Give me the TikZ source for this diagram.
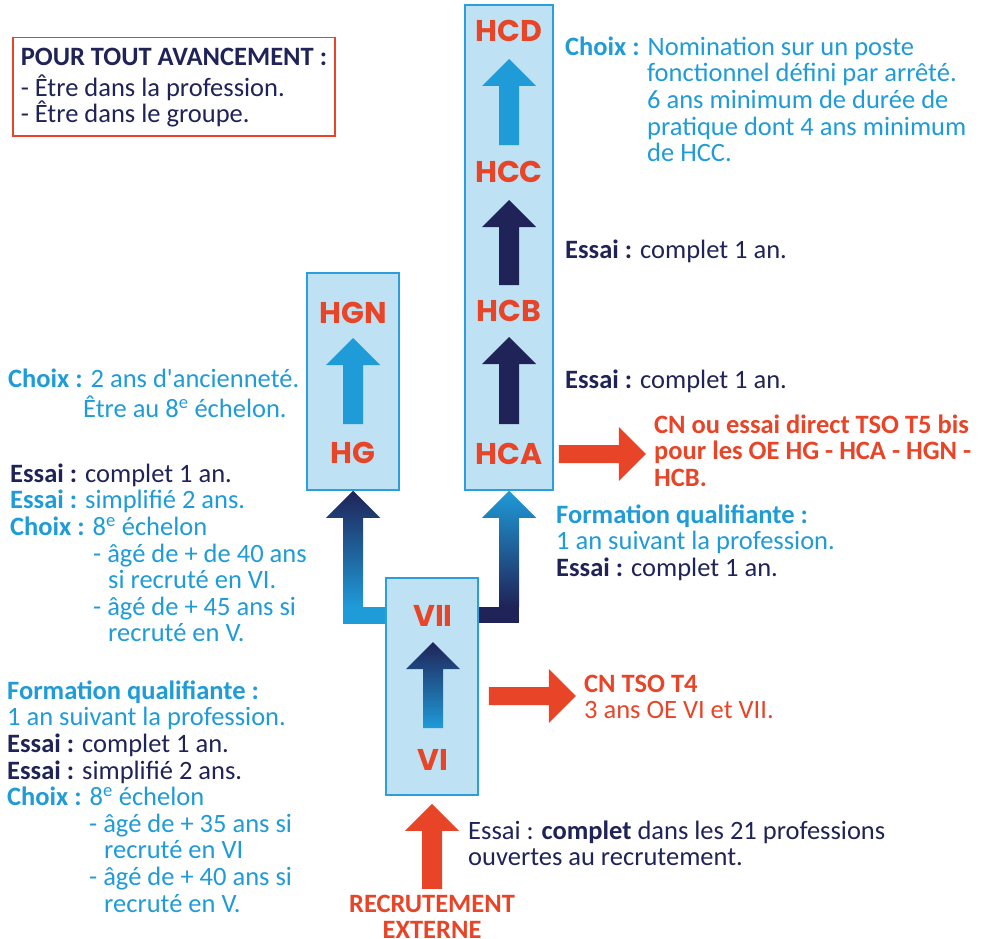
\documentclass[tikz,border=0pt]{standalone}
\usepackage{fontspec}
\setmainfont{Carlito}
\newfontfamily\gradefont{Poppins}
\usetikzlibrary{calc}
\definecolor{cnavy}{HTML}{1F2357}
\definecolor{cblue}{HTML}{1F9BD8}
\definecolor{cred}{HTML}{E84427}
\definecolor{cpale}{HTML}{BEE2F3}
\definecolor{cedge}{HTML}{2A9FDB}
\newcommand{\txtsize}{\fontsize{26.5}{26.6}\selectfont}
\newcommand{\gradesize}{\gradefont\bfseries\fontsize{30}{30}\selectfont}
\newcommand{\bigarrowup}[3]{%
  \path[#1] let \p1=(#2), \p2=(#3) in
    (\x1-10pt,\y1) -- (\x1-10pt,\y2-27pt) -- (\x1-27pt,\y2-27pt) -- (\x1,\y2)
    -- (\x1+27pt,\y2-27pt) -- (\x1+10pt,\y2-27pt) -- (\x1+10pt,\y1) -- cycle;}
\newcommand{\bigarrowright}[3]{%
  \path[#1] let \p1=(#2), \p2=(#3) in
    (\x1,\y1-9pt) -- (\x2-27pt,\y1-9pt) -- (\x2-27pt,\y1-27pt) -- (\x2,\y1)
    -- (\x2-27pt,\y1+27pt) -- (\x2-27pt,\y1+9pt) -- (\x1,\y1+9pt) -- cycle;}
\begin{document}
\begin{tikzpicture}[x=1pt, y=-1pt,
    box/.style={draw=cedge, line width=1.5pt, fill=cpale, inner sep=0pt},
    grade/.style={text=cred, inner sep=0pt, font=\gradesize},
    txt/.style={anchor=north west, inner sep=0pt, align=left, font=\txtsize, text=cblue},
    navyfill/.style={fill=cnavy},
    bluefill/.style={fill=cblue},
    redfill/.style={fill=cred}]
  \useasboundingbox (0,0) rectangle (982,939);

  \node[box, minimum width=88pt, minimum height=485pt] (boxhc) at (509,247.5) {};
  \node[box, minimum width=92pt, minimum height=217pt] (boxhg) at (353,381.5) {};
  \node[box, minimum width=92pt, minimum height=217pt] (boxvii) at (432,686.5) {};

  \node[grade] (hcd) at (509,31) {HCD};
  \node[grade] (hcc) at (509,172) {HCC};
  \node[grade] (hcb) at (509,311) {HCB};
  \node[grade] (hca) at (509,454) {HCA};
  \node[grade] (hgn) at (353,313) {HGN};
  \node[grade] (hg) at (353,453) {HG};
  \node[grade] (vii) at (433,616) {VII};
  \node[grade] (vi) at (433,760) {VI};

  \bigarrowup{bluefill}{$(hcc)+(0,-27)$}{$(hcd)+(0,28)$}
  \bigarrowup{navyfill}{$(hcb)+(0,-26)$}{$(hcc)+(0,28)$}
  \bigarrowup{navyfill}{$(hca)+(0,-30)$}{$(hcb)+(0,26)$}
  \bigarrowup{bluefill}{$(hg)+(0,-29)$}{$(hgn)+(0,25)$}
  \bigarrowup{top color=cnavy, bottom color=cblue}{$(vi)+(0,-32)$}{$(vii)+(0,26)$}

  \fill[cblue] ($(boxhg.south |- boxvii.north)+(-10,30)$) rectangle ($(boxvii.north west)+(0,47)$);
  \bigarrowup{top color=cnavy, bottom color=cblue}{$(boxhg.south |- boxvii.north)+(0,30)$}{boxhg.south}
  \fill[cnavy] (boxvii.north east) ++(0,30) rectangle ($(boxhc.south |- boxvii.north)+(10,46)$);
  \bigarrowup{top color=cblue, bottom color=cnavy}{$(boxhc.south |- boxvii.north)+(0,30)$}{boxhc.south}
  \bigarrowup{redfill}{$(boxvii.south)+(0,93)$}{$(boxvii.south)+(0,8)$}
  \bigarrowright{redfill}{$(boxvii.east)+(10,9.5)$}{$(boxvii.east)+(97,9.5)$}
  \bigarrowright{redfill}{$(boxhc.east |- hca)+(5,0)$}{$(boxhc.east |- hca)+(92,0)$}

  \node[txt, draw=cred, line width=1.5pt, inner xsep=8pt, inner ysep=9pt, text=cnavy] (avance) at (12,37)
    {\strut\textbf{POUR TOUT AVANCEMENT :}\\- Être dans la profession.\\- Être dans le groupe.};
  \node[txt] (choixhcd) at (565,36.4) {\strut\textbf{Choix :} Nomination sur un poste\\
    \hspace*{82pt}fonctionnel défini par arrêté.\\
    \hspace*{82pt}6 ans minimum de durée de\\
    \hspace*{82pt}pratique dont 4 ans minimum\\
    \hspace*{82pt}de HCC.};
  \node[txt, text=cnavy] (essaihcc) at (565,239.4) {\strut\textbf{Essai :} complet 1 an.};
  \node[txt, text=cnavy] (essaihcb) at (565,369.4) {\strut\textbf{Essai :} complet 1 an.};
  \node[txt] (choixhgn) at (8,368.4) {\strut\textbf{Choix :} 2 ans d\textquotesingle ancienneté.\\
    \hspace*{75pt}Être au 8\textsuperscript{e} échelon.};
  \node[txt] (versvhg) at (10,463.4) {\strut\textcolor{cnavy}{\textbf{Essai :} complet 1 an.}\\
    \textbf{Essai :} simplifié 2 ans.\\
    \textbf{Choix :} 8\textsuperscript{e} échelon\\
    \hspace*{83pt}- âgé de + de 40 ans\\
    \hspace*{98pt}si recruté en VI.\\
    \hspace*{83pt}- âgé de + 45 ans si\\
    \hspace*{98pt}recruté en V.};
  \node[txt] (versvii) at (7,680.4) {\strut\textbf{Formation qualifiante :}\\
    1 an suivant la profession.\\
    \textcolor{cnavy}{\textbf{Essai :} complet 1 an.}\\
    \textcolor{cnavy}{\textbf{Essai :} simplifié 2 ans.}\\
    \textbf{Choix :} 8\textsuperscript{e} échelon\\
    \hspace*{82pt}- âgé de + 35 ans si\\
    \hspace*{97pt}recruté en VI\\
    \hspace*{82pt}- âgé de + 40 ans si\\
    \hspace*{97pt}recruté en V.};
  \node[txt, text=cred, font=\txtsize\bfseries] (direct) at (654,414.4)
    {\strut CN ou essai direct TSO T5 bis\\pour les OE HG - HCA - HGN -\\HCB.};
  \node[txt] (formhca) at (556,504.4) {\strut\textbf{Formation qualifiante :}\\
    1 an suivant la profession.\\
    \textcolor{cnavy}{\textbf{Essai :} complet 1 an.}};
  \node[txt, text=cred] (tsot4) at (584,673.4) {\strut\textbf{CN TSO T4}\\3 ans OE VI et VII.};
  \node[txt, text=cnavy] (essaivi) at (468,820.4)
    {\strut Essai : \textbf{complet} dans les 21 professions\\ouvertes au recrutement.};
  \node[txt, anchor=north, align=center, text=cred, font=\txtsize\bfseries] (recrut) at (432,893.4)
    {\strut RECRUTEMENT\\EXTERNE};
\end{tikzpicture}
\end{document}
